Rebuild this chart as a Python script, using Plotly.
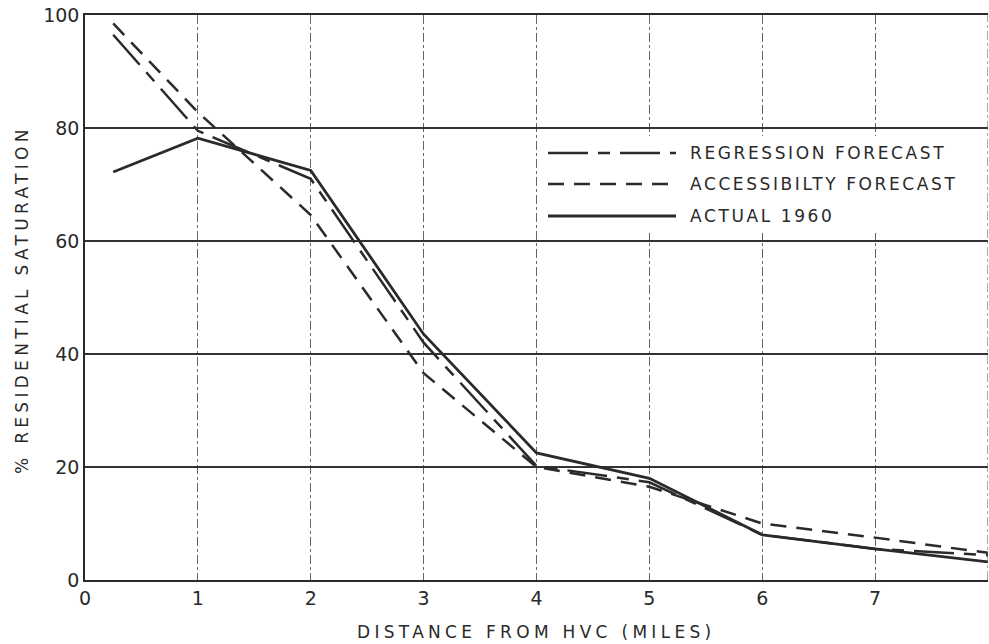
import plotly.graph_objects as go

distance = [0.25, 1, 2, 3, 4, 5, 6, 7, 8]
actual_1960 = [72.2, 78.2, 72.5, 43.5, 22.5, 18.0, 8.0, 5.5, 3.2]
regression = [96.5, 79.5, 71.0, 42.0, 20.2, 17.3, 8.0, 5.5, 4.4]
accessibility = [98.5, 82.8, 64.6, 36.6, 20.0, 16.5, 10.0, 7.5, 4.8]

x_ticks = [0, 1, 2, 3, 4, 5, 6, 7]
x_labels = ["0", "1", "2", "3", "4", "5", "6", "7"]
y_ticks = [0, 20, 40, 60, 80, 100]
y_labels = ["0", "20", "40", "60", "80", "100"]

INK = "#2a2a2a"
FONT = "DejaVu Sans"
REG_DASH = "40px,10px,12px,10px"
ACC_DASH = "16px,10px"

def spaced(text, px):
    return '<span style="letter-spacing:%spx">%s</span>' % (px, text)

fig = go.Figure()
fig.add_trace(go.Scatter(x=distance, y=regression, mode="lines", name="REGRESSION FORECAST",
                         line=dict(color=INK, width=2.5, dash=REG_DASH)))
fig.add_trace(go.Scatter(x=distance, y=accessibility, mode="lines", name="ACCESSIBILTY FORECAST",
                         line=dict(color=INK, width=2.5, dash=ACC_DASH)))
fig.add_trace(go.Scatter(x=distance, y=actual_1960, mode="lines", name="ACTUAL 1960",
                         line=dict(color=INK, width=2.8)))

W, H = 989, 644
L, R, T, B = 85, 1, 15, 64
pw, ph = W - L - R, H - T - B

def px2paper(px, py):
    return (px - L) / pw, (H - B - py) / ph

shapes = []
shapes.append(dict(type="line", xref="x", yref="paper", x0=8, x1=8, y0=0, y1=1,
                   line=dict(color="#555", width=1, dash="dashdot")))
x0, y0 = px2paper(543, 233)
x1, y1 = px2paper(984, 136)
shapes.append(dict(type="rect", xref="paper", yref="paper", x0=x0, x1=x1, y0=y0, y1=y1,
                   fillcolor="white", line=dict(width=0), layer="above"))
annotations = []
rows = [(153, REG_DASH, "REGRESSION FORECAST", 2.5),
        (184, ACC_DASH, "ACCESSIBILTY FORECAST", 2.5),
        (216, "solid", "ACTUAL 1960", 2.8)]
for py, dash, label, w in rows:
    ax0, ay = px2paper(548, py)
    ax1, _ = px2paper(676, py)
    shapes.append(dict(type="line", xref="paper", yref="paper", x0=ax0, x1=ax1, y0=ay, y1=ay,
                       line=dict(color=INK, width=w, dash=dash), layer="above"))
    tx, _ = px2paper(688, py)
    annotations.append(dict(xref="paper", yref="paper", x=tx, y=ay, text=spaced(label, 2.6),
                             showarrow=False, xanchor="left", yanchor="middle",
                             font=dict(family=FONT, size=17, color=INK)))

tx, ty = px2paper(536, 632)
annotations.append(dict(xref="paper", yref="paper", x=tx, y=ty,
                        text=spaced("DISTANCE FROM HVC (MILES)", 4.3),
                        showarrow=False, xanchor="center", yanchor="middle",
                        font=dict(family=FONT, size=17, color=INK)))
tx, ty = px2paper(22, 300)
annotations.append(dict(xref="paper", yref="paper", x=tx, y=ty,
                        text=spaced("% RESIDENTIAL SATURATION", 4.3),
                        showarrow=False, textangle=-90, xanchor="center", yanchor="middle",
                        font=dict(family=FONT, size=17, color=INK)))

fig.update_layout(
    width=W, height=H,
    margin=dict(l=L, r=R, t=T, b=B, pad=0),
    paper_bgcolor="white", plot_bgcolor="white",
    showlegend=False,
    shapes=shapes, annotations=annotations,
    font=dict(family=FONT, color=INK, size=19),
    xaxis=dict(range=[0, 8], tickmode="array", tickvals=x_ticks, ticktext=x_labels,
               showgrid=True, gridcolor="#666", gridwidth=1, griddash="dashdot",
               showline=True, linecolor=INK, linewidth=2, mirror=True,
               zeroline=False, ticks="", tickfont=dict(size=19, family=FONT, color=INK)),
    yaxis=dict(range=[0, 100], tickmode="array", tickvals=y_ticks, ticktext=y_labels,
               showgrid=True, gridcolor="#333", gridwidth=1.6,
               showline=True, linecolor=INK, linewidth=1.5,
               zeroline=False, ticks="", tickfont=dict(size=19, family=FONT, color=INK)),
)

fig.write_html("out.html")
